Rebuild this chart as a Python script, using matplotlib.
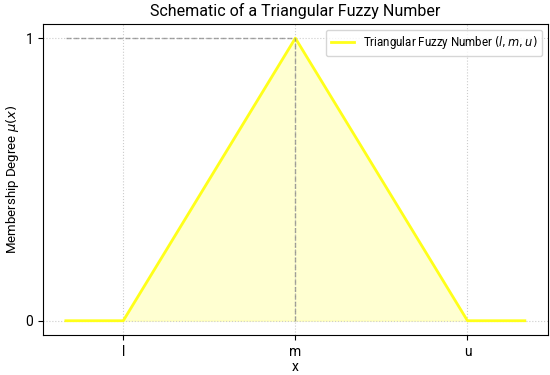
import numpy as np
import matplotlib
matplotlib.use("Agg")
import matplotlib.pyplot as plt

plt.rcParams['font.family'] = ['Roboto', 'DejaVu Sans']
plt.rcParams['mathtext.fontset'] = 'dejavusans'

# fuzzy number parameters (l, m, u) and plotted x range
l, m, u = 2, 5, 8
x_pts = [1, l, m, u, 9]
mu_pts = [0, 0, 1, 0, 0]

tick_pos = [l, m, u]
tick_labels = ["l", "m", "u"]

fig, ax = plt.subplots(figsize=(5.5, 3.75), dpi=100)
fig.subplots_adjust(left=0.078, right=0.996, top=0.936, bottom=0.107)

ax.plot(x_pts, mu_pts, color="#ffff1a", linewidth=2,
        label=r"Triangular Fuzzy Number $(l, m, u)$")
ax.fill_between(x_pts, mu_pts, color="#ffff1a", alpha=0.2)

# reference dashed lines to the peak
ax.plot([x_pts[0], m], [1, 1], color="gray", linestyle="--", linewidth=1, alpha=0.7)
ax.plot([m, m], [0, 1], color="gray", linestyle="--", linewidth=1, alpha=0.7)

ax.set_xticks(tick_pos)
ax.set_xticklabels(tick_labels, fontsize=10)
ax.set_yticks([0, 1])
ax.set_yticklabels(["0", "1"], fontsize=10)

ax.set_title("Schematic of a Triangular Fuzzy Number", fontsize=11.5)
ax.set_xlabel("x", fontsize=10, labelpad=1)
ax.set_ylabel(r"Membership Degree $\mu(x)$", fontsize=9.5)
ax.yaxis.set_label_coords(-0.044, 0.5)

ax.grid(True, linestyle=":", color="#cccccc", linewidth=0.8)
ax.legend(loc="upper right", fontsize=8.3)

plt.savefig("out.png", dpi=100)
